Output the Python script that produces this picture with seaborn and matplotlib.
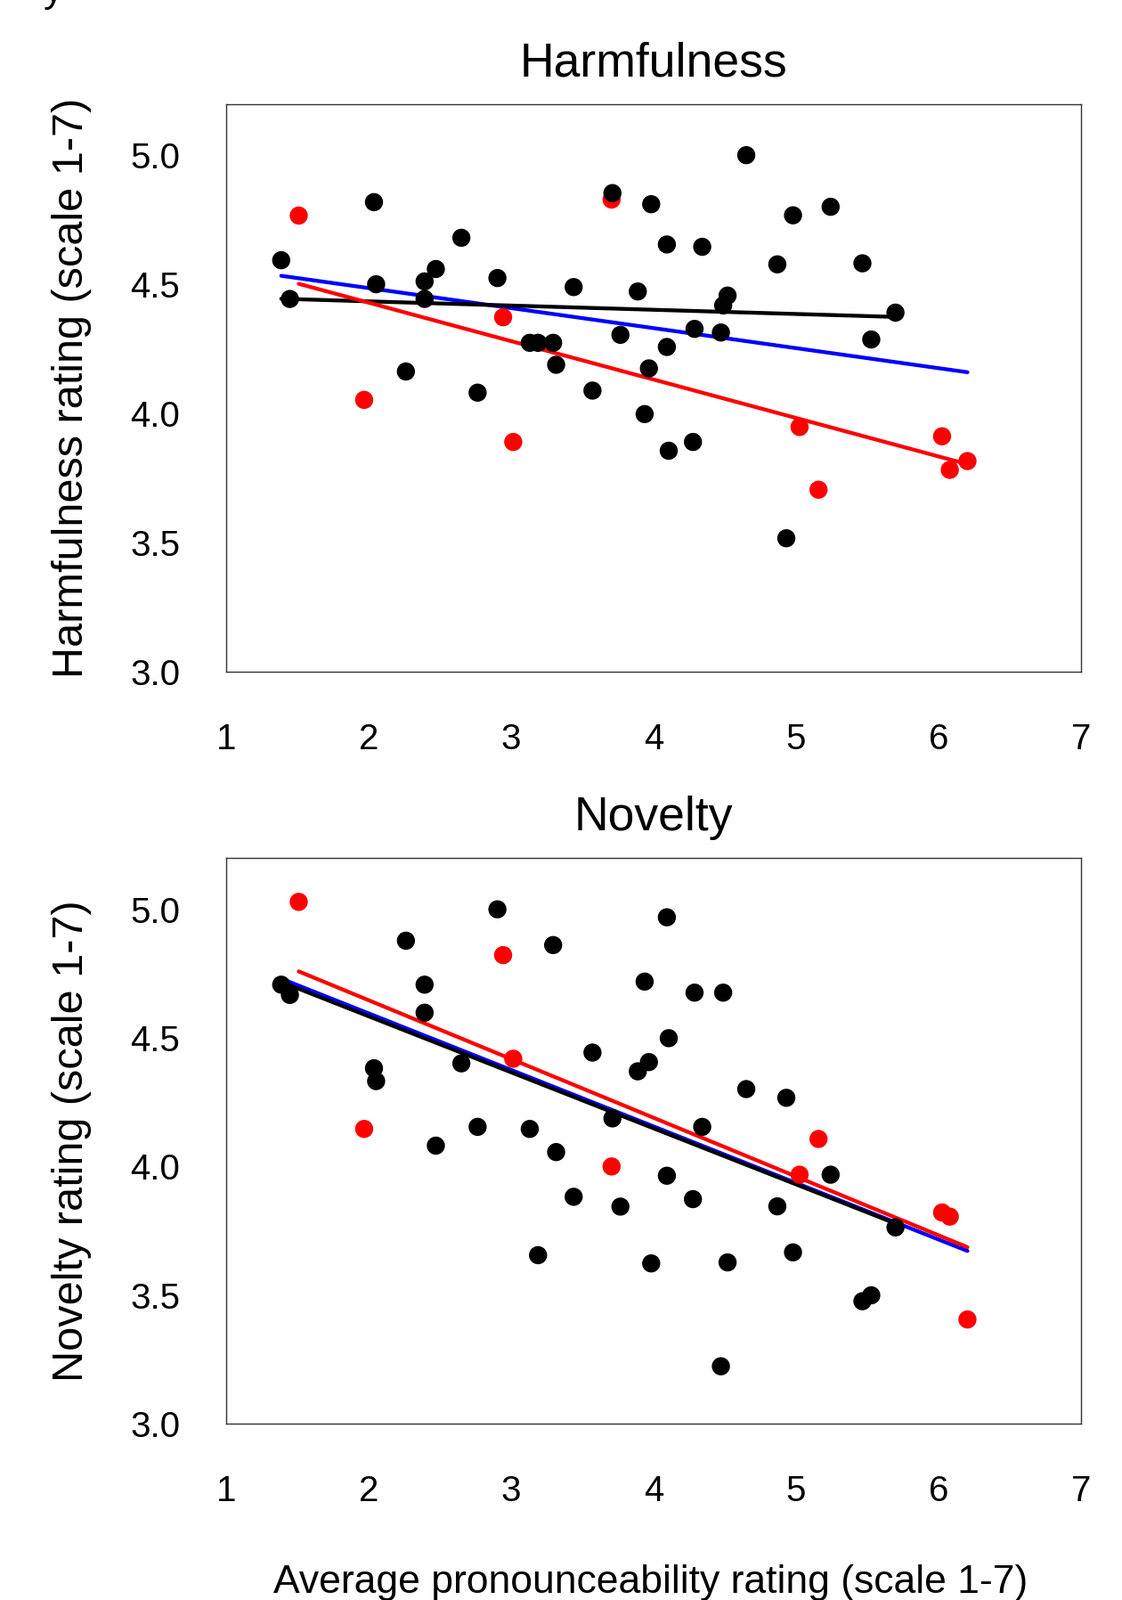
import numpy as np
import pandas as pd
import seaborn as sns
import matplotlib.pyplot as plt

# average pronounceability (x), harmfulness and novelty ratings per item
# red items first so black dots sit on top where they overlap
pron = [1.511, 1.970, 2.945, 3.016, 3.706, 5.025, 5.158, 6.025, 6.079, 6.203,
        1.388, 1.449, 2.039, 2.054, 2.263, 2.394, 2.394, 2.473, 2.652, 2.766,
        2.905, 3.132, 3.190, 3.296, 3.317, 3.440, 3.572, 3.712, 3.768, 3.890,
        3.938, 3.968, 3.984, 4.094, 4.094, 4.107, 4.277, 4.288, 4.342, 4.473,
        4.489, 4.520, 4.651, 4.869, 4.932, 4.979, 5.243, 5.466, 5.528, 5.698]
harm = [4.767, 4.053, 4.373, 3.890, 4.829, 3.948, 3.705, 3.912, 3.782, 3.816,
        4.594, 4.444, 4.819, 4.501, 4.163, 4.512, 4.444, 4.560, 4.681, 4.081,
        4.525, 4.274, 4.274, 4.274, 4.189, 4.490, 4.089, 4.854, 4.305, 4.473,
        3.998, 4.175, 4.811, 4.655, 4.258, 3.856, 3.890, 4.328, 4.646, 4.314,
        4.419, 4.457, 5.001, 4.578, 3.517, 4.768, 4.801, 4.582, 4.287, 4.391]
novel = [5.029, 4.146, 4.822, 4.419, 4.000, 3.968, 4.107, 3.821, 3.805, 3.405,
         4.707, 4.667, 4.382, 4.332, 4.878, 4.707, 4.598, 4.081, 4.401, 4.154,
         5.000, 4.146, 3.655, 4.861, 4.056, 3.882, 4.443, 4.187, 3.844, 4.370,
         4.719, 4.406, 3.623, 4.969, 3.964, 4.499, 3.873, 4.676, 4.154, 3.223,
         4.676, 3.627, 4.301, 3.845, 4.267, 3.666, 3.968, 3.476, 3.499, 3.763]
group = ["red"] * 10 + ["black"] * 40

panels = [("harm", "Harmfulness", "Harmfulness rating (scale 1-7)"),
          ("novel", "Novelty", "Novelty rating (scale 1-7)")]
x_ticks = [1, 2, 3, 4, 5, 6, 7]
y_ticks = [3.0, 3.5, 4.0, 4.5, 5.0]

df = pd.DataFrame({"pron": pron, "harm": harm, "novel": novel, "group": group})

sns.set_style("white")
plt.rcParams["font.family"] = ["Liberation Sans", "DejaVu Sans"]
plt.rcParams["text.color"] = "black"
plt.rcParams["axes.labelcolor"] = "black"
plt.rcParams["xtick.color"] = "black"
plt.rcParams["ytick.color"] = "black"

W, H = 1260, 1796
fig = plt.figure(figsize=(W / 100, H / 100), dpi=100)

# axes boxes in pixels: left, right, top, bottom
boxes = [(253.7, 1214, 116.5, 754), (253.7, 1214, 963, 1598)]

for i, (col, title, ylab) in enumerate(panels):
    l, r, t, b = boxes[i]
    ax = fig.add_axes([l / W, 1 - b / H, (r - l) / W, (b - t) / H])

    sns.regplot(data=df, x="pron", y=col, scatter=False, ci=None, truncate=True,
                color="#0000FF", line_kws={"lw": 3.1}, ax=ax)
    sns.regplot(data=df[df.group == "black"], x="pron", y=col, scatter=False, ci=None,
                truncate=True, color="#000000", line_kws={"lw": 3.1}, ax=ax)
    sns.regplot(data=df[df.group == "red"], x="pron", y=col, scatter=False, ci=None,
                truncate=True, color="#FF0000", line_kws={"lw": 3.1}, ax=ax)
    sns.scatterplot(data=df, x="pron", y=col, hue="group",
                    palette={"black": "#000000", "red": "#FF0000"},
                    s=215, linewidth=0, legend=False, ax=ax, zorder=3)

    ax.set_xlim(1, 7)
    ax.set_ylim(3.0, 5.2)
    ax.set_xticks(x_ticks)
    ax.set_xticklabels([str(v) for v in x_ticks])
    ax.set_yticks(y_ticks)
    ax.set_yticklabels([f"{v:.1f}" for v in y_ticks])
    ax.tick_params(axis="both", length=18, width=1, color="#333333", labelsize=29)
    ax.tick_params(axis="x", pad=23)
    ax.tick_params(axis="y", pad=19)
    for sp in ax.spines.values():
        sp.set_visible(True)
        sp.set_color("#333333")
        sp.set_linewidth(1)

    ax.set_title(title, fontsize=38.5, pad=22)
    ax.set_ylabel(ylab, fontsize=35, va="center")
    ax.yaxis.set_label_coords((80 - l) / (r - l), 0.5)
    if i == 1:
        ax.set_xlabel("Average pronounceability rating (scale 1-7)", fontsize=32, va="baseline")
        ax.xaxis.set_label_coords((731 - l) / (r - l), -(1788 - b) / (b - t))
    else:
        ax.set_xlabel("")

# tail of a letter cut off at the top edge of the original
fig.text(60 / W, 1 - 2 / H, "y", fontsize=32, ha="center", va="baseline")

plt.savefig("out.png", dpi=100)
